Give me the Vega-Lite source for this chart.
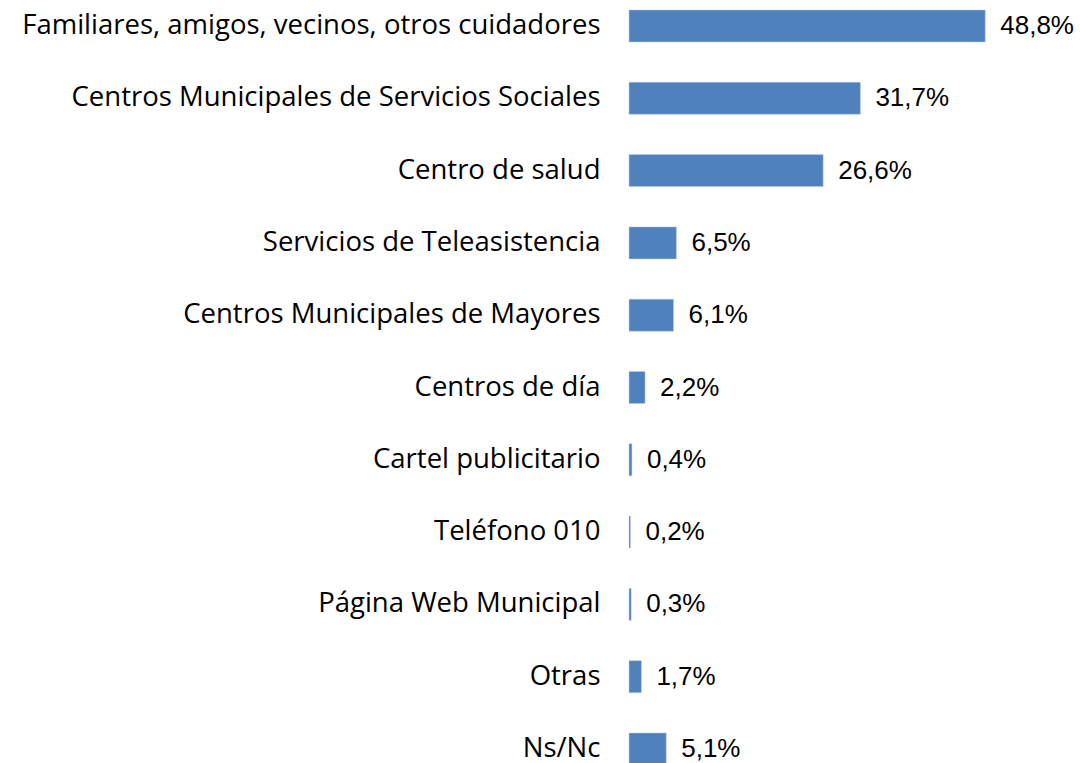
{
  "$schema": "https://vega.github.io/schema/vega-lite/v6.json",
  "width": 438,
  "height": 775,
  "autosize": {"type": "none"},
  "padding": {"left": 629, "top": 0, "right": 13, "bottom": 0},
  "background": "white",
  "config": {
    "view": {"stroke": null},
    "locale": {"number": {"decimal": ",", "thousands": ".", "grouping": [3], "currency": ["", " €"]}}
  },
  "data": {
    "values": [
      {"categoria": "Familiares, amigos, vecinos, otros cuidadores", "valor": 0.488},
      {"categoria": "Centros Municipales de Servicios Sociales", "valor": 0.317},
      {"categoria": "Centro de salud ", "valor": 0.266},
      {"categoria": "Servicios de Teleasistencia", "valor": 0.065},
      {"categoria": "Centros Municipales de Mayores", "valor": 0.061},
      {"categoria": "Centros de día", "valor": 0.022},
      {"categoria": "Cartel publicitario", "valor": 0.004},
      {"categoria": "Teléfono 010", "valor": 0.002},
      {"categoria": "Página Web Municipal", "valor": 0.003},
      {"categoria": "Otras", "valor": 0.017},
      {"categoria": "Ns/Nc", "valor": 0.051}
    ]
  },
  "encoding": {
    "y": {
      "field": "categoria",
      "type": "nominal",
      "sort": null,
      "scale": {"paddingInner": 0.557, "paddingOuter": 0.138},
      "axis": {
        "title": null,
        "domain": false,
        "ticks": false,
        "labelPadding": 29,
        "labelFont": "Open Sans",
        "labelFontSize": 27.5,
        "labelColor": "#000000",
        "labelLimit": 700
      }
    },
    "x": {
      "field": "valor",
      "type": "quantitative",
      "scale": {"domain": [0, 0.6], "nice": false},
      "axis": null
    }
  },
  "layer": [
    {
      "mark": {"type": "bar", "color": "#4f81bd", "stroke": "#c0cde0", "strokeWidth": 0.5}
    },
    {
      "mark": {
        "type": "text",
        "align": "left",
        "baseline": "middle",
        "dx": 15,
        "font": "Liberation Sans",
        "fontSize": 26,
        "color": "#000000"
      },
      "encoding": {
        "text": {"field": "valor", "type": "quantitative", "format": ".1%"}
      }
    }
  ]
}
